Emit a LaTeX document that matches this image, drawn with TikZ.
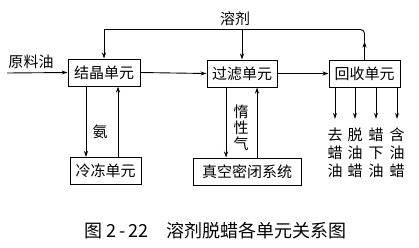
\documentclass[tikz,border=0pt]{standalone}
\usepackage{fontspec}
\setmainfont{Noto Sans CJK SC}
\usetikzlibrary{arrows.meta, positioning, calc}
\tikzset{
  unitbox/.style={
    draw=black, fill=white, line width=1pt,
    minimum height=27pt, inner sep=2pt,
    font=\fontsize{15}{17}\selectfont
  },
  flowline/.style={draw=black, line width=0.9pt},
  flowarrow/.style={
    -{Stealth[length=6pt,width=4pt]},
    draw=black, line width=0.9pt
  },
  flowlabel/.style={
    font=\fontsize{15}{17}\selectfont, inner sep=1pt
  },
  outlabel/.style={
    font=\fontsize{15}{18}\selectfont, align=center, inner sep=1pt
  },
  captiontext/.style={
    font=\fontsize{18}{20}\selectfont
  },
}
\begin{document}
\begin{tikzpicture}[x=1pt, y=-1pt]
  \useasboundingbox (0,0) rectangle (419,247);

  %% Units
  \node[unitbox, minimum width=72pt] (cry) at (104,72.5) {结晶单元};
  \node[unitbox, minimum width=71pt] (frz) at (105.5,171) {冷冻单元};
  \node[unitbox, minimum width=70pt] (flt) at (242,73.5) {过滤单元};
  \node[unitbox, minimum width=108pt] (vac) at (247,171.5) {真空密闭系统};
  \node[unitbox, minimum width=71pt] (rec) at (364.5,73.5) {回收单元};

  %% Feed
  \coordinate (feed) at (7,73);
  \node[flowlabel] (feedtxt) at (31,62) {原料油};
  \draw[flowarrow] (feed) -- (cry.west);

  %% Main line
  \draw[flowarrow] (cry.east) -- (flt.west);
  \draw[flowarrow] (flt.east) -- (rec.west);

  %% Solvent return
  \coordinate (ret) at ([yshift=18pt]rec.north);
  \coordinate (solv) at ([yshift=29pt]cry.north);
  \node[flowlabel] (solvtxt) at (235,19) {溶剂};
  \draw[flowarrow] (rec.north) -- (ret);
  \draw[flowline, rounded corners=4pt] (ret) |- (solv);
  \draw[flowarrow] (solv) -- (cry.north);
  \draw[flowarrow] (solv -| flt.north) -- (flt.north);

  %% Refrigeration loop
  \draw[flowarrow] ([xshift=-18pt]cry.south) -- ([xshift=-18pt]cry.south |- frz.north);
  \draw[flowarrow] ([xshift=14pt]cry.south |- frz.north) -- ([xshift=14pt]cry.south);
  \node[flowlabel] (nh3) at (100,132) {氨};

  %% Inert gas loop
  \draw[flowarrow] ([xshift=-16pt]flt.south) -- ([xshift=-16pt]flt.south |- vac.north);
  \draw[flowarrow] ([xshift=15pt]flt.south |- vac.north) -- ([xshift=15pt]flt.south);
  \node[outlabel, font=\fontsize{15}{16}\selectfont] (gas) at (241,128) {惰\\性\\气};

  %% Products
  \node[outlabel] (o1) at (335,153) {去\\蜡\\油};
  \node[outlabel] (o2) at (355,153) {脱\\油\\蜡};
  \node[outlabel] (o3) at (376,153) {蜡\\下\\油};
  \node[outlabel] (o4) at (397,153) {含\\油\\蜡};
  \foreach \o in {o1,o2,o3,o4}
    \draw[flowarrow, shorten >=8pt] (rec.south -| \o.north) -- (\o.north);

  %% Caption
  \node[captiontext] (cap) at (215.5,231) {图 2\,-\,22\quad 溶剂脱蜡各单元关系图};
\end{tikzpicture}
\end{document}
